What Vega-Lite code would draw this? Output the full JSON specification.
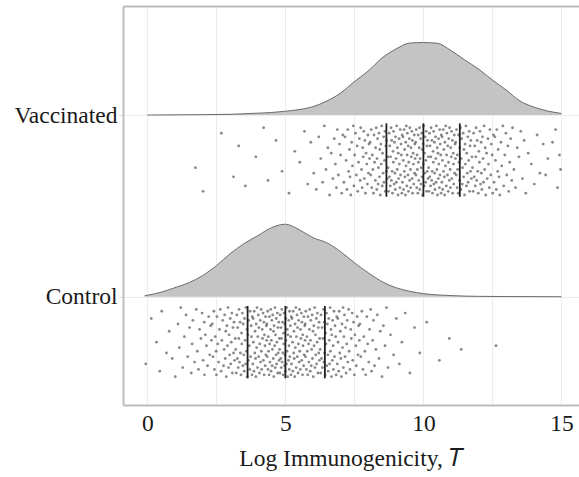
{
  "$schema": "https://vega.github.io/schema/vega-lite/v6.json",
  "width": 456,
  "height": 399,
  "autosize": {"type": "none"},
  "padding": {"left": 123, "top": 6, "right": 0, "bottom": 72},
  "background": "white",
  "config": {"view": {"stroke": null}, "font": "Liberation Serif"},
  "resolve": {"axis": {"x": "independent"}},
  "layer": [
    {
      "data": {"values": [
        {"x":0,"t":2.0},{"x":1,"t":2.001},{"x":2,"t":2.002},{"x":3,"t":2.004},{"x":3.5,"t":2.007},{"x":4,"t":2.01},{"x":4.5,"t":2.014},{"x":5,"t":2.021},{"x":5.5,"t":2.03},{"x":6,"t":2.046},{"x":6.5,"t":2.077},{"x":7,"t":2.121},{"x":7.5,"t":2.184},{"x":8,"t":2.242},{"x":8.5,"t":2.314},{"x":9,"t":2.363},{"x":9.5,"t":2.396},{"x":10,"t":2.399},{"x":10.5,"t":2.395},{"x":11,"t":2.355},{"x":11.5,"t":2.303},{"x":12,"t":2.253},{"x":12.5,"t":2.193},{"x":13,"t":2.138},{"x":13.5,"t":2.077},{"x":14,"t":2.044},{"x":14.5,"t":2.022},{"x":15,"t":2.009}
      ]},
      "mark": {"type": "area", "interpolate": "monotone", "color": "#c4c4c4", "opacity": 1, "fillOpacity": 1, "line": {"color": "#4d4d4d", "strokeWidth": 0.8}},
      "encoding": {
        "x": {"field": "x", "type": "quantitative", "scale": {"domain": [-0.884, 15.638], "nice": false, "zero": false},
          "axis": {"values": [0, 2.5, 5, 7.5, 10, 12.5, 15], "labelExpr": "datum.value % 5 === 0 ? datum.label : ''", "grid": true, "gridColor": "#ececec", "gridWidth": 1, "ticks": false, "domainColor": "#bdbdbd", "domainWidth": 2, "labelFont": "Liberation Serif", "labelFontSize": 23.5, "labelColor": "#1a1a1a", "labelPadding": 6, "labelFlush": false, "labelOverlap": false, "title": "Log Immunogenicity, 𝑇", "titleFont": "Liberation Serif", "titleFontSize": 23.5, "titleFontWeight": "normal", "titleColor": "#1a1a1a", "titlePadding": 12}},
        "y": {"field": "t", "type": "quantitative", "scale": {"domain": [0.404, 2.6], "nice": false, "zero": false},
          "axis": {"values": [1, 2], "labelExpr": "datum.value === 2 ? 'Vaccinated' : 'Control'", "grid": true, "gridColor": "#ececec", "tickColor": "#d0d0d0", "tickSize": 4, "domainColor": "#bdbdbd", "domainWidth": 2, "labelFont": "Liberation Serif", "labelFontSize": 23.5, "labelColor": "#1a1a1a", "labelPadding": 2, "title": null}},
        "y2": {"datum": 2}
      }
    },
    {
      "data": {"values": [
        {"x":-0.1,"t":1.005},{"x":0,"t":1.008},{"x":0.5,"t":1.025},{"x":1,"t":1.05},{"x":1.5,"t":1.077},{"x":2,"t":1.116},{"x":2.5,"t":1.171},{"x":3,"t":1.237},{"x":3.5,"t":1.292},{"x":4,"t":1.336},{"x":4.5,"t":1.38},{"x":5,"t":1.399},{"x":5.5,"t":1.369},{"x":6,"t":1.325},{"x":6.5,"t":1.297},{"x":7,"t":1.248},{"x":7.5,"t":1.187},{"x":8,"t":1.132},{"x":8.5,"t":1.083},{"x":9,"t":1.05},{"x":9.5,"t":1.03},{"x":10,"t":1.017},{"x":10.5,"t":1.01},{"x":11,"t":1.006},{"x":12,"t":1.002},{"x":13,"t":1.001},{"x":15,"t":1.0}
      ]},
      "mark": {"type": "area", "interpolate": "monotone", "color": "#c4c4c4", "opacity": 1, "fillOpacity": 1, "line": {"color": "#4d4d4d", "strokeWidth": 0.8}},
      "encoding": {
        "x": {"field": "x", "type": "quantitative", "scale": {"domain": [-0.884, 15.638], "nice": false, "zero": false}, "axis": null},
        "y": {"field": "t", "type": "quantitative", "scale": {"domain": [0.404, 2.6], "nice": false, "zero": false}},
        "y2": {"datum": 1}
      }
    },
    {
      "data": {"values": "x,y\n1.74,1.71\n2.02,1.58\n2.68,1.90\n3.12,1.66\n3.31,1.83\n3.55,1.61\n3.93,1.77\n4.21,1.93\n4.37,1.64\n4.66,1.86\n4.88,1.69\n5.13,1.57\n5.34,1.80\n5.52,1.74\n5.69,1.91\n5.81,1.62\n5.92,1.85\n6.03,1.68\n6.12,1.59\n6.21,1.88\n6.28,1.76\n6.35,1.63\n6.41,1.94\n6.47,1.70\n6.54,1.82\n6.60,1.56\n6.66,1.79\n6.72,1.65\n6.77,1.87\n6.81,1.73\n6.85,1.60\n6.88,1.92\n6.92,1.67\n6.96,1.84\n7.00,1.78\n7.04,1.57\n7.08,1.89\n7.12,1.63\n7.16,1.88\n7.20,1.75\n7.23,1.59\n7.26,1.92\n7.29,1.69\n7.32,1.81\n7.34,1.66\n7.37,1.56\n7.40,1.85\n7.43,1.72\n7.46,1.94\n7.48,1.61\n7.51,1.78\n7.54,1.90\n7.57,1.67\n7.60,1.83\n7.62,1.58\n7.65,1.74\n7.68,1.87\n7.71,1.64\n7.73,1.93\n7.76,1.70\n7.78,1.60\n7.80,1.82\n7.82,1.77\n7.84,1.91\n7.86,1.65\n7.88,1.86\n7.90,1.57\n7.92,1.79\n7.95,1.73\n7.97,1.62\n7.99,1.89\n8.01,1.68\n8.03,1.84\n8.05,1.76\n8.07,1.85\n8.09,1.67\n8.11,1.92\n8.13,1.60\n8.15,1.78\n8.17,1.70\n8.19,1.57\n8.21,1.89\n8.23,1.74\n8.26,1.64\n8.27,1.82\n8.29,1.93\n8.31,1.59\n8.32,1.76\n8.34,1.87\n8.36,1.62\n8.37,1.71\n8.39,1.90\n8.41,1.66\n8.42,1.81\n8.44,1.56\n8.46,1.84\n8.47,1.73\n8.49,1.94\n8.51,1.61\n8.52,1.79\n8.54,1.68\n8.56,1.88\n8.57,1.63\n8.59,1.75\n8.61,1.91\n8.62,1.58\n8.64,1.83\n8.66,1.69\n8.67,1.86\n8.69,1.65\n8.71,1.77\n8.72,1.71\n8.74,1.58\n8.76,1.90\n8.77,1.66\n8.78,1.83\n8.80,1.61\n8.81,1.77\n8.83,1.93\n8.84,1.64\n8.85,1.86\n8.87,1.69\n8.88,1.57\n8.90,1.80\n8.91,1.74\n8.92,1.91\n8.94,1.62\n8.95,1.85\n8.97,1.68\n8.98,1.59\n8.99,1.88\n9.01,1.76\n9.02,1.63\n9.03,1.94\n9.05,1.70\n9.06,1.82\n9.08,1.56\n9.09,1.79\n9.10,1.65\n9.12,1.87\n9.13,1.73\n9.15,1.60\n9.16,1.92\n9.17,1.67\n9.19,1.84\n9.20,1.78\n9.22,1.57\n9.23,1.89\n9.24,1.63\n9.26,1.88\n9.27,1.75\n9.28,1.59\n9.30,1.92\n9.31,1.69\n9.32,1.81\n9.33,1.66\n9.35,1.56\n9.36,1.85\n9.37,1.72\n9.38,1.94\n9.40,1.61\n9.41,1.78\n9.42,1.90\n9.44,1.67\n9.45,1.83\n9.46,1.58\n9.47,1.74\n9.49,1.87\n9.50,1.64\n9.51,1.93\n9.53,1.70\n9.54,1.60\n9.55,1.82\n9.56,1.77\n9.58,1.91\n9.59,1.65\n9.60,1.86\n9.61,1.57\n9.63,1.79\n9.64,1.73\n9.65,1.62\n9.67,1.89\n9.68,1.68\n9.69,1.84\n9.70,1.76\n9.72,1.85\n9.73,1.67\n9.74,1.92\n9.76,1.60\n9.77,1.78\n9.78,1.70\n9.80,1.57\n9.81,1.89\n9.82,1.74\n9.83,1.64\n9.85,1.82\n9.86,1.93\n9.87,1.59\n9.88,1.76\n9.90,1.87\n9.91,1.62\n9.92,1.71\n9.94,1.90\n9.95,1.66\n9.96,1.81\n9.97,1.56\n9.99,1.84\n10.00,1.73\n10.01,1.94\n10.03,1.61\n10.04,1.79\n10.05,1.68\n10.06,1.88\n10.08,1.63\n10.09,1.75\n10.10,1.91\n10.11,1.58\n10.13,1.83\n10.14,1.69\n10.15,1.86\n10.17,1.65\n10.18,1.77\n10.19,1.71\n10.20,1.58\n10.22,1.90\n10.23,1.66\n10.24,1.83\n10.26,1.61\n10.27,1.77\n10.28,1.93\n10.30,1.64\n10.31,1.86\n10.32,1.69\n10.33,1.57\n10.35,1.80\n10.36,1.74\n10.37,1.91\n10.38,1.62\n10.40,1.85\n10.41,1.68\n10.42,1.59\n10.44,1.88\n10.45,1.76\n10.46,1.63\n10.47,1.94\n10.49,1.70\n10.50,1.82\n10.51,1.56\n10.53,1.79\n10.54,1.65\n10.55,1.87\n10.56,1.73\n10.58,1.60\n10.59,1.92\n10.60,1.67\n10.61,1.84\n10.63,1.78\n10.64,1.57\n10.65,1.89\n10.67,1.63\n10.68,1.88\n10.69,1.75\n10.70,1.59\n10.72,1.92\n10.73,1.69\n10.74,1.81\n10.76,1.66\n10.77,1.56\n10.78,1.85\n10.80,1.72\n10.81,1.94\n10.83,1.61\n10.84,1.78\n10.85,1.90\n10.87,1.67\n10.88,1.83\n10.90,1.58\n10.91,1.74\n10.92,1.87\n10.94,1.64\n10.95,1.93\n10.97,1.70\n10.98,1.60\n10.99,1.82\n11.01,1.77\n11.02,1.91\n11.03,1.65\n11.05,1.86\n11.06,1.57\n11.08,1.79\n11.09,1.73\n11.10,1.62\n11.12,1.89\n11.13,1.68\n11.15,1.84\n11.16,1.76\n11.17,1.85\n11.19,1.67\n11.20,1.92\n11.22,1.60\n11.23,1.78\n11.24,1.70\n11.26,1.57\n11.27,1.89\n11.29,1.74\n11.31,1.64\n11.32,1.82\n11.34,1.93\n11.36,1.59\n11.37,1.76\n11.39,1.87\n11.41,1.62\n11.42,1.71\n11.44,1.90\n11.46,1.66\n11.47,1.81\n11.49,1.56\n11.51,1.84\n11.52,1.73\n11.54,1.94\n11.56,1.61\n11.57,1.79\n11.59,1.68\n11.61,1.88\n11.62,1.63\n11.64,1.75\n11.66,1.91\n11.67,1.58\n11.69,1.83\n11.71,1.69\n11.72,1.86\n11.74,1.65\n11.76,1.77\n11.78,1.71\n11.80,1.58\n11.82,1.90\n11.84,1.66\n11.86,1.83\n11.88,1.61\n11.90,1.77\n11.91,1.93\n11.93,1.64\n11.95,1.86\n11.97,1.69\n11.99,1.57\n12.01,1.80\n12.03,1.74\n12.05,1.91\n12.07,1.62\n12.09,1.85\n12.10,1.68\n12.12,1.59\n12.14,1.88\n12.16,1.76\n12.18,1.63\n12.20,1.94\n12.22,1.70\n12.24,1.82\n12.26,1.56\n12.29,1.79\n12.31,1.65\n12.34,1.87\n12.36,1.73\n12.39,1.60\n12.41,1.92\n12.44,1.67\n12.46,1.84\n12.49,1.78\n12.51,1.57\n12.54,1.89\n12.56,1.63\n12.59,1.88\n12.61,1.75\n12.64,1.59\n12.66,1.92\n12.69,1.69\n12.71,1.81\n12.74,1.66\n12.77,1.56\n12.81,1.85\n12.84,1.72\n12.88,1.94\n12.91,1.61\n12.95,1.78\n12.99,1.90\n13.02,1.67\n13.06,1.83\n13.09,1.58\n13.13,1.74\n13.16,1.87\n13.20,1.64\n13.23,1.93\n13.28,1.70\n13.34,1.60\n13.40,1.82\n13.46,1.77\n13.53,1.91\n13.59,1.65\n13.65,1.86\n13.71,1.57\n13.80,1.79\n13.91,1.73\n14.02,1.62\n14.12,1.89\n14.22,1.68\n14.34,1.84\n14.51,1.76\n14.68,1.85\n14.43,1.67\n14.79,1.92\n14.86,1.60\n14.93,1.78\n14.97,1.70\n-0.06,.63\n0.14,.88\n0.33,.75\n0.45,.59\n0.52,.92\n0.69,.69\n0.79,.81\n0.90,.66\n1.01,.56\n1.11,.85\n1.16,.72\n1.21,.94\n1.28,.61\n1.34,.78\n1.40,.90\n1.46,.67\n1.53,.83\n1.59,.58\n1.62,.74\n1.65,.87\n1.71,.64\n1.77,.93\n1.81,.70\n1.85,.60\n1.89,.82\n1.94,.77\n1.98,.91\n2.02,.65\n2.06,.86\n2.07,.57\n2.10,.79\n2.14,.73\n2.18,.62\n2.22,.89\n2.26,.68\n2.29,.84\n2.32,.76\n2.35,.85\n2.38,.67\n2.41,.92\n2.43,.60\n2.46,.78\n2.49,.70\n2.50,.57\n2.52,.89\n2.55,.74\n2.58,.64\n2.61,.82\n2.64,.93\n2.67,.59\n2.70,.76\n2.73,.87\n2.76,.62\n2.78,.71\n2.80,.90\n2.82,.66\n2.84,.81\n2.86,.56\n2.88,.84\n2.90,.73\n2.92,.94\n2.94,.61\n2.96,.79\n2.98,.68\n3.00,.88\n3.02,.63\n3.04,.75\n3.06,.91\n3.08,.58\n3.10,.83\n3.12,.69\n3.14,.86\n3.16,.65\n3.18,.77\n3.20,.71\n3.22,.58\n3.24,.90\n3.26,.66\n3.27,.83\n3.29,.61\n3.31,.77\n3.32,.93\n3.34,.64\n3.36,.86\n3.37,.69\n3.39,.57\n3.41,.80\n3.42,.74\n3.44,.91\n3.46,.62\n3.47,.85\n3.49,.68\n3.51,.59\n3.52,.88\n3.54,.76\n3.56,.63\n3.57,.94\n3.59,.70\n3.61,.82\n3.62,.56\n3.64,.79\n3.66,.65\n3.67,.87\n3.69,.73\n3.71,.60\n3.72,.92\n3.74,.67\n3.76,.84\n3.77,.78\n3.79,.57\n3.80,.89\n3.82,.63\n3.83,.88\n3.84,.75\n3.86,.59\n3.87,.92\n3.89,.69\n3.90,.81\n3.92,.66\n3.93,.56\n3.94,.85\n3.96,.72\n3.97,.94\n3.99,.61\n4.00,.78\n4.02,.90\n4.03,.67\n4.04,.83\n4.06,.58\n4.07,.74\n4.09,.87\n4.10,.64\n4.12,.93\n4.13,.70\n4.14,.60\n4.16,.82\n4.17,.77\n4.19,.91\n4.20,.65\n4.22,.86\n4.23,.57\n4.24,.79\n4.26,.73\n4.27,.62\n4.28,.89\n4.29,.68\n4.31,.84\n4.32,.76\n4.33,.85\n4.34,.67\n4.36,.92\n4.37,.60\n4.38,.78\n4.39,.70\n4.41,.57\n4.42,.89\n4.43,.74\n4.44,.64\n4.46,.82\n4.47,.93\n4.48,.59\n4.49,.76\n4.51,.87\n4.52,.62\n4.53,.71\n4.54,.90\n4.56,.66\n4.57,.81\n4.58,.56\n4.59,.84\n4.61,.73\n4.62,.94\n4.63,.61\n4.64,.79\n4.66,.68\n4.67,.88\n4.68,.63\n4.69,.75\n4.71,.91\n4.72,.58\n4.73,.83\n4.74,.69\n4.76,.86\n4.77,.65\n4.78,.77\n4.79,.71\n4.80,.58\n4.81,.90\n4.83,.66\n4.84,.83\n4.85,.61\n4.86,.77\n4.87,.93\n4.88,.64\n4.90,.86\n4.91,.69\n4.92,.57\n4.93,.80\n4.94,.74\n4.95,.91\n4.97,.62\n4.98,.85\n4.99,.68\n5.00,.59\n5.01,.88\n5.02,.76\n5.04,.63\n5.05,.94\n5.06,.70\n5.07,.82\n5.08,.56\n5.09,.79\n5.11,.65\n5.12,.87\n5.13,.73\n5.14,.60\n5.15,.92\n5.16,.67\n5.18,.84\n5.19,.78\n5.20,.57\n5.21,.89\n5.22,.63\n5.24,.88\n5.26,.75\n5.27,.59\n5.28,.92\n5.30,.69\n5.31,.81\n5.32,.66\n5.34,.56\n5.35,.85\n5.36,.72\n5.38,.94\n5.39,.61\n5.40,.78\n5.42,.90\n5.43,.67\n5.44,.83\n5.46,.58\n5.47,.74\n5.48,.87\n5.50,.64\n5.51,.93\n5.52,.70\n5.54,.60\n5.55,.82\n5.56,.77\n5.58,.91\n5.59,.65\n5.60,.86\n5.62,.57\n5.63,.79\n5.64,.73\n5.66,.62\n5.67,.89\n5.68,.68\n5.70,.84\n5.71,.76\n5.72,.85\n5.73,.67\n5.74,.92\n5.76,.60\n5.78,.78\n5.79,.70\n5.81,.57\n5.82,.89\n5.84,.74\n5.85,.64\n5.87,.82\n5.88,.93\n5.90,.59\n5.91,.76\n5.92,.87\n5.94,.62\n5.95,.71\n5.97,.90\n5.98,.66\n6.00,.81\n6.01,.56\n6.03,.84\n6.04,.73\n6.06,.94\n6.07,.61\n6.09,.79\n6.10,.68\n6.12,.88\n6.13,.63\n6.15,.75\n6.16,.91\n6.18,.58\n6.19,.83\n6.21,.69\n6.22,.86\n6.23,.65\n6.24,.77\n6.26,.71\n6.28,.58\n6.29,.90\n6.31,.66\n6.33,.83\n6.34,.61\n6.36,.77\n6.38,.93\n6.39,.64\n6.41,.86\n6.42,.69\n6.44,.57\n6.46,.80\n6.47,.74\n6.49,.91\n6.50,.62\n6.52,.85\n6.54,.68\n6.55,.59\n6.57,.88\n6.59,.76\n6.60,.63\n6.62,.94\n6.63,.70\n6.65,.82\n6.67,.56\n6.68,.79\n6.70,.65\n6.71,.87\n6.73,.73\n6.74,.60\n6.76,.92\n6.78,.67\n6.80,.84\n6.82,.78\n6.84,.57\n6.86,.89\n6.88,.63\n6.90,.88\n6.91,.75\n6.93,.59\n6.95,.92\n6.97,.69\n6.99,.81\n7.01,.66\n7.03,.56\n7.05,.85\n7.07,.72\n7.09,.94\n7.10,.61\n7.12,.78\n7.14,.90\n7.16,.67\n7.18,.83\n7.20,.58\n7.22,.74\n7.24,.87\n7.26,.64\n7.29,.93\n7.31,.70\n7.34,.60\n7.37,.82\n7.39,.77\n7.42,.91\n7.44,.65\n7.47,.86\n7.50,.57\n7.52,.79\n7.55,.73\n7.57,.62\n7.60,.89\n7.63,.68\n7.65,.84\n7.68,.76\n7.70,.85\n7.73,.67\n7.77,.92\n7.81,.60\n7.84,.78\n7.88,.70\n7.91,.57\n7.95,.89\n7.98,.74\n8.02,.64\n8.05,.82\n8.09,.93\n8.12,.59\n8.16,.76\n8.19,.87\n8.23,.62\n8.28,.71\n8.33,.90\n8.39,.66\n8.44,.81\n8.50,.56\n8.55,.84\n8.61,.73\n8.66,.94\n8.72,.61\n8.81,.79\n8.92,.68\n9.02,.88\n9.13,.63\n9.22,.75\n9.34,.91\n9.51,.58\n9.68,.83\n9.87,.69\n10.12,.86\n10.58,.65\n10.94,.77\n11.37,.71\n12.63,.73", "format": {"type": "csv", "parse": {"x": "number", "y": "number"}}},
      "mark": {"type": "circle", "size": 8, "color": "#3a3a3a", "opacity": 0.6},
      "encoding": {
        "x": {"field": "x", "type": "quantitative", "scale": {"domain": [-0.884, 15.638], "nice": false, "zero": false},
          "axis": {"orient": "top", "labels": false, "ticks": false, "grid": false, "domainColor": "#bdbdbd", "domainWidth": 2, "title": null}},
        "y": {"field": "y", "type": "quantitative", "scale": {"domain": [0.404, 2.6], "nice": false, "zero": false}}
      }
    },
    {
      "data": {"values": [
        {"x": 8.66, "lo": 1.55, "hi": 1.954},
        {"x": 10.0, "lo": 1.55, "hi": 1.954},
        {"x": 11.32, "lo": 1.55, "hi": 1.954},
        {"x": 3.63, "lo": 0.551, "hi": 0.949},
        {"x": 5.0, "lo": 0.551, "hi": 0.949},
        {"x": 6.43, "lo": 0.551, "hi": 0.949}
      ]},
      "mark": {"type": "rule", "color": "#1f1f1f", "strokeWidth": 1.8},
      "encoding": {
        "x": {"field": "x", "type": "quantitative", "scale": {"domain": [-0.884, 15.638], "nice": false, "zero": false}, "axis": null},
        "y": {"field": "lo", "type": "quantitative", "scale": {"domain": [0.404, 2.6], "nice": false, "zero": false}},
        "y2": {"field": "hi"}
      }
    }
  ]
}
